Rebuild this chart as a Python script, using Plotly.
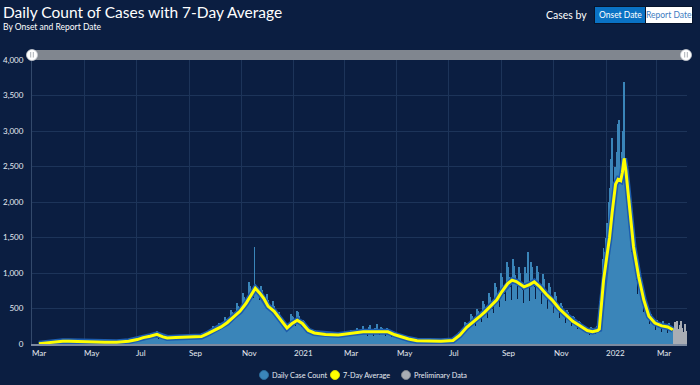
import plotly.graph_objects as go
import pandas as pd

# ---------------- data ----------------
daily_start = "2020-03-09"
daily_weeks = [
    [0, 2, 3, 5, 8, 6, 4], [10, 18, 22, 25, 20, 28, 17], [25, 42, 40, 38, 36, 35, 28],
    [30, 48, 45, 42, 40, 38, 35], [28, 46, 44, 40, 38, 36, 32], [26, 44, 40, 36, 35, 33, 30],
    [24, 40, 38, 33, 31, 30, 28], [20, 36, 32, 30, 27, 28, 23], [18, 34, 30, 27, 26, 25, 22],
    [18, 32, 29, 26, 25, 24, 21], [17, 31, 28, 25, 24, 23, 20], [16, 30, 29, 26, 24, 23, 20],
    [18, 31, 30, 27, 25, 24, 20], [19, 34, 32, 29, 27, 26, 22], [22, 42, 40, 36, 33, 32, 26],
    [30, 56, 52, 48, 46, 44, 38], [45, 80, 75, 70, 66, 62, 55], [62, 112, 105, 98, 92, 85, 76],
    [75, 135, 130, 118, 112, 105, 95], [90, 150, 140, 130, 125, 187, 60], [70, 140, 130, 120, 110, 105, 85],
    [60, 105, 100, 92, 85, 80, 70], [62, 112, 105, 96, 90, 88, 75], [65, 118, 112, 100, 95, 92, 80],
    [66, 125, 108, 98, 96, 90, 82], [60, 120, 105, 95, 90, 85, 75], [68, 130, 118, 105, 100, 98, 80],
    [75, 140, 150, 120, 112, 110, 98], [100, 185, 175, 160, 150, 145, 130], [140, 250, 235, 215, 200, 190, 170],
    [170, 300, 280, 260, 240, 230, 200], [210, 380, 350, 320, 300, 290, 250], [270, 480, 450, 410, 385, 370, 330],
    [310, 580, 530, 480, 450, 430, 370], [380, 720, 660, 600, 560, 540, 460], [460, 880, 820, 720, 680, 650, 550],
    [1368, 850, 780, 720, 680, 620, 480], [480, 820, 760, 700, 650, 600, 540], [400, 700, 620, 560, 480, 380, 500],
    [320, 600, 540, 480, 450, 420, 340], [240, 450, 410, 370, 340, 320, 250], [170, 300, 280, 250, 230, 210, 170],
    [220, 420, 400, 380, 300, 150, 230], [250, 460, 450, 400, 310, 200, 240], [180, 340, 320, 280, 250, 230, 150],
    [120, 220, 210, 190, 170, 160, 120], [110, 195, 185, 165, 150, 140, 105], [95, 175, 165, 150, 135, 125, 100],
    [90, 170, 160, 145, 130, 120, 95], [88, 165, 150, 140, 125, 115, 92], [90, 175, 160, 145, 128, 122, 90],
    [95, 190, 175, 155, 140, 130, 95], [105, 200, 185, 165, 150, 140, 105], [115, 230, 200, 180, 165, 150, 115],
    [120, 260, 210, 185, 175, 160, 115], [115, 240, 270, 180, 170, 150, 100], [110, 230, 220, 280, 165, 100, 85],
    [120, 240, 230, 190, 175, 160, 110], [115, 225, 210, 185, 165, 150, 105], [90, 180, 165, 145, 130, 118, 82],
    [65, 130, 120, 105, 95, 88, 62], [52, 100, 95, 83, 75, 70, 50], [40, 78, 72, 64, 58, 54, 40],
    [32, 62, 58, 52, 47, 45, 33], [30, 56, 52, 46, 42, 40, 28], [28, 54, 50, 44, 40, 37, 27],
    [28, 55, 49, 44, 40, 38, 26], [30, 56, 52, 46, 42, 40, 28], [33, 64, 60, 53, 48, 45, 33],
    [40, 82, 76, 66, 60, 56, 40], [90, 170, 160, 140, 130, 125, 95], [160, 310, 290, 260, 235, 225, 165],
    [220, 420, 400, 350, 320, 300, 230], [260, 500, 470, 410, 375, 350, 260], [310, 600, 560, 490, 450, 420, 320],
    [370, 720, 660, 580, 530, 500, 350], [440, 860, 800, 700, 640, 600, 440], [520, 1000, 940, 820, 750, 700, 520],
    [600, 1150, 1080, 950, 860, 800, 580], [620, 1200, 1100, 970, 880, 830, 630], [560, 1080, 1000, 880, 810, 760, 580],
    [540, 1080, 1000, 860, 760, 1300, 500], [600, 1150, 1080, 950, 870, 800, 640], [570, 1100, 1020, 900, 820, 760, 570],
    [500, 980, 920, 800, 730, 680, 500], [440, 860, 800, 700, 640, 600, 440], [370, 730, 680, 590, 540, 500, 370],
    [300, 580, 540, 470, 430, 400, 290], [250, 480, 450, 390, 360, 340, 250], [200, 400, 380, 330, 300, 280, 210],
    [170, 330, 310, 260, 220, 150, 240], [130, 260, 240, 210, 190, 170, 130], [120, 240, 220, 190, 175, 160, 120],
    [140, 250, 260, 320, 420, 600, 700], [800, 1200, 1350, 1300, 1100, 1500, 1700],
    [1400, 2000, 2200, 2100, 2600, 2900, 1800], [2200, 2500, 2100, 1700, 2700, 3100, 3150],
    [2300, 1900, 1800, 2700, 3000, 3690, 2300], [2000, 1600, 1900, 2100, 1700, 1500, 1300],
    [1300, 1100, 1400, 1200, 1000, 900, 700], [600, 900, 850, 750, 650, 600, 450],
    [380, 600, 540, 480, 420, 380, 280], [230, 420, 380, 340, 300, 280, 200],
    [190, 340, 320, 290, 260, 240, 170], [170, 320, 300, 270, 240, 220, 160],
    [150, 300, 270, 240, 210, 190, 140],
]
prelim_start = "2022-03-21"
prelim_cases = [230, 310, 190, 260, 330, 210, 150, 270, 320, 190, 230, 170, 120, 280, 180, 140]

avg_dates = [
    "2020-03-09", "2020-03-16", "2020-03-23", "2020-03-30", "2020-04-06", "2020-04-13", "2020-04-27",
    "2020-05-11", "2020-05-25", "2020-06-08", "2020-06-22", "2020-07-02", "2020-07-09", "2020-07-17",
    "2020-07-25", "2020-08-01", "2020-08-06", "2020-08-16", "2020-08-28", "2020-09-05", "2020-09-15",
    "2020-09-23", "2020-10-01", "2020-10-08", "2020-10-15", "2020-10-23", "2020-10-30", "2020-11-06",
    "2020-11-12", "2020-11-17", "2020-11-22", "2020-11-27", "2020-12-02", "2020-12-09", "2020-12-16",
    "2020-12-24", "2020-12-30", "2021-01-05", "2021-01-11", "2021-01-18", "2021-01-25", "2021-02-07",
    "2021-02-22", "2021-03-09", "2021-03-23", "2021-04-08", "2021-04-21", "2021-04-29", "2021-05-07",
    "2021-05-15", "2021-05-25", "2021-06-07", "2021-06-22", "2021-07-06", "2021-07-14", "2021-07-22",
    "2021-07-29", "2021-08-06", "2021-08-12", "2021-08-18", "2021-08-26", "2021-09-01", "2021-09-08",
    "2021-09-13", "2021-09-18", "2021-09-27", "2021-10-04", "2021-10-09", "2021-10-16", "2021-10-23",
    "2021-10-30", "2021-11-07", "2021-11-15", "2021-11-23", "2021-11-30", "2021-12-05", "2021-12-10",
    "2021-12-16", "2021-12-22", "2021-12-24", "2021-12-26", "2021-12-29", "2022-01-02", "2022-01-05",
    "2022-01-08", "2022-01-12", "2022-01-15", "2022-01-18", "2022-01-20", "2022-01-22", "2022-01-24",
    "2022-01-27", "2022-01-30", "2022-02-02", "2022-02-08", "2022-02-14", "2022-02-20", "2022-02-27",
    "2022-03-07", "2022-03-14", "2022-03-20",
]
avg_values = [
    5, 15, 30, 38, 40, 37, 30,
    25, 23, 25, 40, 62, 90, 110,
    135, 100, 85, 92, 95, 92, 105,
    150, 200, 240, 300, 390, 460, 570,
    680, 785, 720, 640, 530, 460, 350,
    225, 290, 335, 290, 190, 155, 135,
    128, 150, 172, 172, 172, 130, 95,
    70, 47, 40, 40, 50, 125, 235,
    300, 384, 450, 525, 620, 736, 850,
    900, 880, 806, 840, 876, 800, 700,
    619, 500, 408, 320, 267, 230, 190,
    173, 190, 210, 450, 900, 1250, 1500,
    1850, 2250, 2320, 2300, 2420, 2615, 2450,
    2100, 1750, 1370, 950, 620, 390, 295,
    255, 240, 200,
]

y_ticks = [0, 500, 1000, 1500, 2000, 2500, 3000, 3500, 4000]
x_tick_dates = ["2020-03-01", "2020-05-01", "2020-07-01", "2020-09-01", "2020-11-01", "2021-01-01",
                "2021-03-01", "2021-05-01", "2021-07-01", "2021-09-01", "2021-11-01", "2022-01-01",
                "2022-03-01"]
x_tick_labels = ["Mar", "May", "Jul", "Sep", "Nov", "2021", "Mar", "May", "Jul", "Sep", "Nov", "2022", "Mar"]
legend_names = ["Daily Case Count", "7-Day Average", "Preliminary Data"]

daily_cases = [v for wk in daily_weeks for v in wk]
daily_dates = pd.date_range(daily_start, periods=len(daily_cases), freq="D")
prelim_dates = pd.date_range(prelim_start, periods=len(prelim_cases), freq="D")

# ---------------- styling ----------------
BG = "#0b1e41"
BAR = "#3a85b9"
GRAY = "#a9adb4"
YEL = "#ffff00"
FONT = "Lato"
TXT = "#e6ebf2"

W, H = 700, 385
L, R, T, B = 32, 13, 60, 41
PW, PH = W - L - R, H - T - B


def px(x):
    return (x - L) / PW


def py(y):
    return (H - B - y) / PH


fig = go.Figure()
fig.add_trace(go.Bar(x=daily_dates, y=daily_cases, marker=dict(color=BAR, line=dict(width=0)),
                     name=legend_names[0], showlegend=False))
fig.add_trace(go.Bar(x=prelim_dates, y=prelim_cases, marker=dict(color=GRAY, line=dict(width=0)),
                     name=legend_names[2], showlegend=False))
fig.add_trace(go.Scatter(x=avg_dates, y=avg_values, mode="lines", line=dict(color="#1c5cae", width=6),
                         showlegend=False, hoverinfo="skip"))
fig.add_trace(go.Scatter(x=avg_dates, y=avg_values, mode="lines", line=dict(color=YEL, width=3),
                         name=legend_names[1], showlegend=False))

shapes = []
annotations = []

# range-slider-like bar at top
shapes.append(dict(type="rect", xref="paper", yref="paper", x0=px(32), x1=px(686), y0=py(60), y1=py(50),
                   fillcolor="#80868f", line=dict(width=0), layer="above"))
for cx in (32, 686):
    shapes.append(dict(type="circle", xref="paper", yref="paper", x0=px(cx - 5.5), x1=px(cx + 5.5),
                       y0=py(60.5), y1=py(49.5), fillcolor="#ffffff", line=dict(color="#c8ccd2", width=0.8),
                       layer="above"))
    for dx in (-1.3, 1.3):
        shapes.append(dict(type="line", xref="paper", yref="paper", x0=px(cx + dx), x1=px(cx + dx),
                           y0=py(52), y1=py(57.5), line=dict(color="#a0a6ae", width=0.9), layer="above"))

# buttons
shapes.append(dict(type="rect", xref="paper", yref="paper", x0=px(594), x1=px(693), y0=py(24), y1=py(6),
                   fillcolor="#06142c", line=dict(width=0)))
shapes.append(dict(type="rect", xref="paper", yref="paper", x0=px(595), x1=px(645), y0=py(23), y1=py(7),
                   fillcolor="#0a72c4", line=dict(width=0)))
shapes.append(dict(type="rect", xref="paper", yref="paper", x0=px(646), x1=px(692), y0=py(23), y1=py(7),
                   fillcolor="#ffffff", line=dict(width=0)))
annotations.append(dict(text="Onset Date", xref="paper", yref="paper", x=px(620), y=py(15), showarrow=False,
                        xanchor="center", yanchor="middle", font=dict(family=FONT, size=8.5, color="#ffffff")))
annotations.append(dict(text="Report Date", xref="paper", yref="paper", x=px(669), y=py(15), showarrow=False,
                        xanchor="center", yanchor="middle", font=dict(family=FONT, size=8.5, color="#3d7cc2")))
annotations.append(dict(text="Cases by", xref="paper", yref="paper", x=px(589), y=py(15), xanchor="right",
                        yanchor="middle", showarrow=False, font=dict(family=FONT, size=10.5, color="#ffffff")))

# titles
annotations.append(dict(text="Daily Count of Cases with 7-Day Average", xref="paper", yref="paper",
                        x=px(1), y=py(1), xanchor="left", yanchor="top", showarrow=False,
                        font=dict(family=FONT, size=15.5, color="#ffffff")))
annotations.append(dict(text="By Onset and Report Date", xref="paper", yref="paper",
                        x=px(1), y=py(20), xanchor="left", yanchor="top", showarrow=False,
                        font=dict(family=FONT, size=8.5, color="#ffffff")))

# x tick labels (left-aligned at tick)
for d, lab in zip(x_tick_dates, x_tick_labels):
    annotations.append(dict(text=lab, xref="x", yref="paper", x=d, y=py(346), xanchor="left", yanchor="top",
                            showarrow=False, xshift=-2, font=dict(family=FONT, size=8, color=TXT)))

# legend (manual)
leg_colors = [(BAR, "#2a6a9a"), (YEL, "#d9d900"), (GRAY, "#7d8189")]
leg_x = [264, 335, 406]
for (fc, lc), cx, name in zip(leg_colors, leg_x, legend_names):
    shapes.append(dict(type="circle", xref="paper", yref="paper", x0=px(cx - 4.5), x1=px(cx + 4.5),
                       y0=py(379.5), y1=py(370.5), fillcolor=fc, line=dict(color=lc, width=1)))
    annotations.append(dict(text=name, xref="paper", yref="paper", x=px(cx + 6), y=py(375), xanchor="left",
                            yanchor="middle", showarrow=False, font=dict(family=FONT, size=7.3, color=TXT)))

fig.update_layout(
    width=W, height=H,
    margin=dict(l=L, r=R, t=T, b=B, autoexpand=False),
    paper_bgcolor=BG, plot_bgcolor=BG,
    barmode="overlay", bargap=0,
    showlegend=False,
    font=dict(family=FONT, color="#ffffff"),
    shapes=shapes, annotations=annotations,
    xaxis=dict(type="date", range=["2020-03-01", "2022-04-05 12:00"], tickvals=x_tick_dates,
               showticklabels=False, showgrid=True, gridcolor="#1d3459", gridwidth=1, automargin=False,
               showline=True, linecolor="#7c8aa0", linewidth=1.5, zeroline=False, ticks=""),
    yaxis=dict(range=[0, 4000], tickvals=y_ticks, tickformat=",d", showgrid=True, gridcolor="#1d3459",
               gridwidth=1, zeroline=False, showline=True, linecolor="#33496b", linewidth=1, automargin=False,
               ticks="", ticklabelstandoff=6, tickfont=dict(family=FONT, size=8, color=TXT)),
)

fig.write_html("out.html", config={"displayModeBar": False},
               post_script="document.body.style.margin='0';document.body.style.background='%s';" % BG)
